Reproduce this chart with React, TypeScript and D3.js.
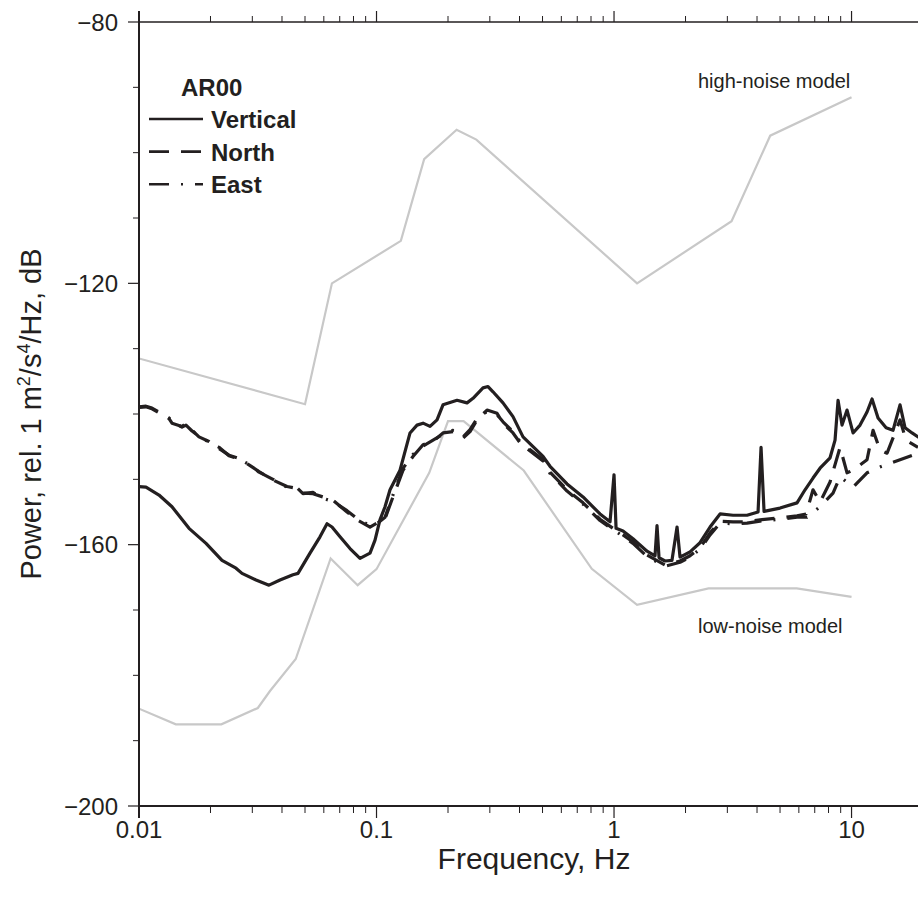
import React from 'react';
import * as d3 from 'd3';

type Pt = [number, number];

// Frequency (Hz), power (dB)
const vertical: Pt[] = [
  [0.01, -151.1], [0.0107, -151.2], [0.01214, -152.4], [0.01377, -154.2], [0.01624, -157.5],
  [0.01915, -159.8], [0.02236, -162.4], [0.02561, -163.6], [0.02715, -164.4], [0.0311, -165.4],
  [0.03527, -166.2], [0.03924, -165.4], [0.0445, -164.6], [0.04671, -164.4], [0.05248, -161.3],
  [0.05782, -158.8], [0.06189, -156.8], [0.06495, -157.3], [0.07021, -158.8], [0.07735, -160.6],
  [0.0852, -162.1], [0.09389, -161.3], [0.09856, -159.3], [0.1034, -156.2], [0.1086, -154.2],
  [0.114, -151.6], [0.1256, -148.6], [0.1384, -142.9], [0.1481, -141.7], [0.157, -141.4],
  [0.168, -141.9], [0.1798, -140.9], [0.1905, -138.6], [0.2183, -137.9], [0.2405, -138.3],
  [0.2549, -137.6], [0.2808, -136.0], [0.2948, -135.8], [0.3093, -136.6], [0.3408, -138.3],
  [0.3755, -140.4], [0.4139, -143.5], [0.456, -145.0], [0.5025, -146.5], [0.5377, -148.0],
  [0.6341, -150.7], [0.7405, -152.7], [0.8732, -155.3], [0.962, -156.5], [1.0, -149.3],
  [1.02, -157.5], [1.091, -157.9], [1.202, -159.1], [1.377, -161.0], [1.488, -161.7],
  [1.517, -157.1], [1.547, -162.0], [1.639, -162.5], [1.754, -162.4], [1.842, -157.3],
  [1.896, -161.9], [2.089, -161.1], [2.302, -159.7], [2.537, -157.3], [2.795, -155.3],
  [3.17, -155.5], [3.631, -155.5], [4.04, -155.0], [4.159, -145.1], [4.282, -154.9],
  [4.999, -154.4], [5.895, -153.6], [6.372, -151.6], [6.884, -149.8], [7.369, -148.3],
  [8.119, -146.7], [8.522, -144.0], [8.774, -137.9], [9.12, -141.7], [9.574, -139.4],
  [10.15, -142.9], [10.86, -141.7], [11.62, -139.7], [12.2, -137.7], [12.93, -140.6],
  [13.98, -142.1], [14.95, -142.5], [16.0, -138.6], [16.8, -142.1], [17.98, -142.9],
  [19.43, -143.7],
];

const north: Pt[] = [
  [0.01, -138.9], [0.0107, -138.8], [0.01134, -139.1], [0.01214, -139.7], [0.01338, -140.7],
  [0.01377, -141.4], [0.01517, -141.9], [0.01577, -141.5], [0.01672, -142.5], [0.01789, -143.5],
  [0.01971, -144.2], [0.02172, -145.3], [0.02393, -146.3], [0.02637, -146.8], [0.02905, -147.8],
  [0.03201, -148.8], [0.03666, -150.1], [0.042, -151.1], [0.04627, -151.4], [0.04903, -152.1],
  [0.05402, -152.2], [0.05952, -152.7], [0.06558, -153.2], [0.07513, -155.0], [0.08277, -156.2],
  [0.09389, -157.3], [0.1005, -156.7], [0.1086, -156.0], [0.1173, -152.7], [0.1293, -148.6],
  [0.1424, -146.5], [0.157, -144.7], [0.173, -144.2], [0.1905, -142.9], [0.2099, -142.7],
  [0.2313, -143.7], [0.2476, -142.7], [0.265, -140.9], [0.292, -139.4], [0.3217, -139.9],
  [0.3408, -141.4], [0.3755, -142.9], [0.402, -144.4], [0.4302, -145.1], [0.5025, -147.0],
  [0.5377, -148.9], [0.6341, -151.6], [0.7405, -153.6], [0.8732, -156.1], [0.9904, -157.5],
  [1.091, -158.5], [1.202, -159.6], [1.377, -161.6], [1.639, -163.1], [1.896, -162.5],
  [2.089, -161.7], [2.302, -160.5], [2.537, -158.2], [2.795, -156.4], [3.17, -156.5],
  [3.631, -156.5], [4.119, -156.2], [4.999, -155.9], [5.895, -155.6], [6.434, -155.3],
  [6.884, -151.6], [7.369, -153.5], [8.119, -150.4], [8.946, -145.1], [9.574, -149.0],
  [10.15, -148.6], [11.62, -147.0], [12.32, -142.5], [13.18, -145.5], [14.11, -146.0],
  [16.0, -140.9], [16.96, -144.0], [19.05, -145.1],
];

const east: Pt[] = [
  [0.01, -139.0], [0.0107, -138.9], [0.01134, -139.2], [0.01214, -139.8], [0.01338, -140.6],
  [0.01377, -141.2], [0.01517, -142.0], [0.01577, -141.7], [0.01672, -142.6], [0.01789, -143.4],
  [0.01971, -144.3], [0.02172, -145.1], [0.02393, -146.4], [0.02637, -146.9], [0.02905, -147.7],
  [0.03201, -148.9], [0.03666, -150.0], [0.042, -151.2], [0.04627, -151.3], [0.04903, -152.2],
  [0.05402, -152.0], [0.05952, -152.9], [0.06558, -153.4], [0.07513, -154.8], [0.08277, -156.0],
  [0.09389, -157.1], [0.1005, -156.8], [0.1086, -155.8], [0.1173, -152.4], [0.1293, -148.3],
  [0.1424, -146.2], [0.157, -144.9], [0.173, -144.0], [0.1905, -143.1], [0.2099, -142.5],
  [0.2313, -143.5], [0.2476, -142.4], [0.265, -140.7], [0.292, -139.6], [0.3217, -140.1],
  [0.3408, -141.2], [0.3755, -142.7], [0.402, -144.2], [0.4302, -145.3], [0.5025, -147.2],
  [0.5377, -149.1], [0.6341, -151.8], [0.7405, -153.8], [0.8732, -156.3], [0.9904, -157.7],
  [1.091, -158.7], [1.202, -159.8], [1.377, -161.8], [1.639, -163.3], [1.896, -162.7],
  [2.089, -161.9], [2.302, -160.7], [2.537, -158.5], [2.795, -156.7], [3.17, -156.8],
  [3.631, -156.7], [4.119, -156.4], [4.999, -156.1], [5.895, -155.8], [6.5, -155.8],
  [7.369, -154.2], [8.357, -152.1], [8.946, -149.6], [10.15, -151.2], [11.62, -149.0],
  [13.18, -148.1], [16.0, -147.0], [19.05, -146.0],
];

const highNoiseModel: Pt[] = [
  [0.01, -131.5], [0.05, -138.5], [0.0649, -120.0], [0.1266, -113.5], [0.1587, -101.0],
  [0.2174, -96.5], [0.2632, -98.0], [1.25, -120.0], [3.125, -110.5], [4.545, -97.4], [10, -91.5],
];

const lowNoiseModel: Pt[] = [
  [0.01, -185.1], [0.01429, -187.5], [0.02222, -187.5], [0.03165, -185.0], [0.0356, -182.4],
  [0.0457, -177.5], [0.0641, -162.1], [0.0833, -166.2], [0.1, -163.75], [0.1667, -149.0],
  [0.2, -141.1], [0.2326, -141.1], [0.4167, -148.65], [0.806, -163.7], [1.25, -169.2],
  [2.5, -166.7], [5.88, -166.7], [10, -168.0],
];

const xMajorTicks = [0.01, 0.1, 1, 10];
const xTickLabels = ['0.01', '0.1', '1', '10'];
const yMajorTicks = [-80, -120, -160, -200];
const yTickLabels = ['\u221280', '\u2212120', '\u2212160', '\u2212200'];
const legendItems = ['Vertical', 'North', 'East'];
const legendTitle = 'AR00';

const INK = '#231f20';
const GRAY = '#c8c8c8';
const FONT = '"Liberation Sans", Arial, Helvetica, sans-serif';

export default function App() {
  const left = 139, top = 22, bottom = 806, right = 930.5;
  const x = d3.scaleLog().domain([0.01, 21.5]).range([left, right]);
  const y = d3.scaleLinear().domain([-200, -80]).range([bottom, top]);
  const line = d3.line<Pt>().x(d => x(d[0])).y(d => y(d[1]));

  const xMinor: number[] = [];
  [0.01, 0.1, 1, 10].forEach(dec => {
    for (let k = 2; k <= 9; k++) {
      const v = k * dec;
      if (v <= 21.5) xMinor.push(v);
    }
  });
  const yMinor = d3.range(-200, -79, 10).filter(v => !yMajorTicks.includes(v));

  const series = [
    { data: vertical, dash: undefined as string | undefined },
    { data: north, dash: '20 12' },
    { data: east, dash: '20 12 2 12' },
  ];
  const legendDash = [undefined, '20 12', '20 12 2 12'];

  return (
    <svg width={918} height={898} style={{ position: 'absolute', left: 0, top: 0, background: '#fff' }}
      fontFamily={FONT}>
      <defs>
        <clipPath id="plotclip">
          <rect x={left} y={top} width={right - left} height={bottom - top} />
        </clipPath>
      </defs>
      <rect x={0} y={0} width={918} height={898} fill="#fff" />

      {/* noise models */}
      <g clipPath="url(#plotclip)" fill="none" stroke={GRAY} strokeWidth={2.2}>
        <path d={line(highNoiseModel) || ''} />
        <path d={line(lowNoiseModel) || ''} />
      </g>

      {/* data */}
      <g clipPath="url(#plotclip)" fill="none" stroke={INK} strokeWidth={3.2} strokeLinejoin="round">
        {series.map((s, i) => (
          <path key={i} d={line(s.data) || ''} strokeDasharray={s.dash} />
        ))}
      </g>

      {/* axes lines */}
      <line x1={left} x2={918} y1={top} y2={top} stroke={INK} strokeWidth={1.6} />
      <line x1={left} x2={918} y1={bottom} y2={bottom} stroke={INK} strokeWidth={2} />
      <line x1={left} x2={left} y1={top - 11} y2={bottom + 12} stroke={INK} strokeWidth={2} />

      {/* x ticks */}
      {xMajorTicks.map((v, i) => (
        <g key={'xm' + i}>
          <line x1={x(v)} x2={x(v)} y1={bottom} y2={bottom + 12} stroke={INK} strokeWidth={1.2} />
          <line x1={x(v)} x2={x(v)} y1={top} y2={top - 11} stroke={INK} strokeWidth={1.2} />
          <text x={x(v)} y={838} textAnchor="middle" fontSize={24} fill={INK}>{xTickLabels[i]}</text>
        </g>
      ))}
      {xMinor.map((v, i) => (
        <g key={'xn' + i}>
          <line x1={x(v)} x2={x(v)} y1={bottom} y2={bottom + 7} stroke={INK} strokeWidth={1} />
          <line x1={x(v)} x2={x(v)} y1={top} y2={top - 6} stroke={INK} strokeWidth={1} />
        </g>
      ))}

      {/* y ticks */}
      {yMajorTicks.map((v, i) => (
        <g key={'ym' + i}>
          <line x1={left - 11} x2={left} y1={y(v)} y2={y(v)} stroke={INK} strokeWidth={1.2} />
          <text x={118} y={y(v) + 8.5} textAnchor="end" fontSize={24} fill={INK}>{yTickLabels[i]}</text>
        </g>
      ))}
      {yMinor.map((v, i) => (
        <line key={'yn' + i} x1={left - 6} x2={left} y1={y(v)} y2={y(v)} stroke={INK} strokeWidth={1} />
      ))}

      {/* axis titles */}
      <text x={534} y={869} textAnchor="middle" fontSize={30} fill={INK}>Frequency, Hz</text>
      <text transform={`translate(41, ${(top + bottom) / 2}) rotate(-90)`} textAnchor="middle" fontSize={29} fill={INK}>
        Power, rel. 1 m<tspan fontSize={18} dy={-11}>2</tspan><tspan dy={11}>/s</tspan><tspan fontSize={18} dy={-11}>4</tspan><tspan dy={11}>/Hz, dB</tspan>
      </text>

      {/* model labels */}
      <text x={698} y={88} fontSize={20} fill={INK}>high-noise model</text>
      <text x={698} y={633} fontSize={20} fill={INK}>low-noise model</text>

      {/* legend */}
      <text x={181} y={96} fontSize={24} fontWeight="bold" fill={INK}>{legendTitle}</text>
      {legendItems.map((name, i) => {
        const base = 128 + i * 32.6;
        return (
          <g key={name}>
            <line x1={149} x2={203} y1={base - 9} y2={base - 9} stroke={INK} strokeWidth={2.6}
              strokeDasharray={legendDash[i]} />
            <text x={211} y={base} fontSize={24} fontWeight="bold" fill={INK}>{name}</text>
          </g>
        );
      })}
    </svg>
  );
}
